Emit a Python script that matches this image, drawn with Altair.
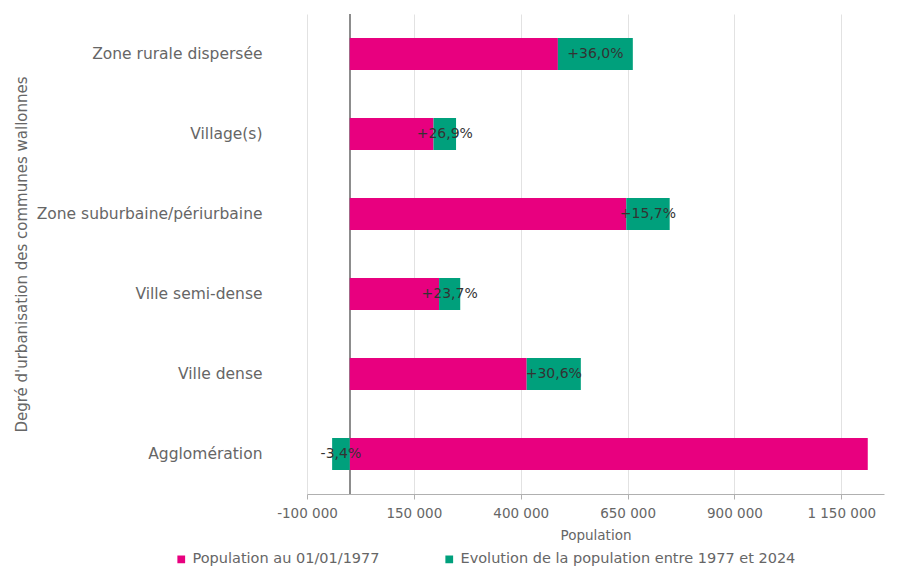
import altair as alt
import pandas as pd

# Urbanisation degree of Walloon municipalities, top to bottom
categories = [
    "Zone rurale dispersée",
    "Village(s)",
    "Zone suburbaine/périurbaine",
    "Ville semi-dense",
    "Ville dense",
    "Agglomération",
]
# Population on 1 January 1977
pop_1977 = [487000, 196000, 647000, 209000, 414000, 1212000]
# Change in population 1977 -> 2024, in percent of the 1977 population
evolution_pct = [36.0, 26.9, 15.7, 23.7, 30.6, -3.4]

series_names = [
    "Population au 01/01/1977",
    "Evolution de la population entre 1977 et 2024",
]
series_colors = ["#e8007f", "#00a07c"]
x_ticks = [-100000, 150000, 400000, 650000, 900000, 1150000]

FONT = "DejaVu Sans"
TEXT_GREY = "#666666"

rows = []
label_rows = []
for cat, pop, pct in zip(categories, pop_1977, evolution_pct):
    evol = round(pop * pct / 100)
    rows.append({"cat": cat, "serie": series_names[0], "value": pop, "rank": 0})
    rows.append({"cat": cat, "serie": series_names[1], "value": evol, "rank": 1})
    label_rows.append({
        "cat": cat,
        "pop": pop,
        "evol": evol,
        "label": f"{pct:+.1f}%".replace(".", ","),
    })
bars_df = pd.DataFrame(rows)
labels_df = pd.DataFrame(label_rows)

x_scale = alt.Scale(domain=[-100000, 1250000], nice=False, zero=False)
y_scale = alt.Scale(domain=categories, paddingInner=0.6, paddingOuter=0.3)

x_axis = alt.Axis(
    values=x_ticks,
    labelExpr="replace(replace(format(datum.value, ','), regexp(',', 'g'), ' '), '\u2212', '-')",
    labelFlush=False,
    grid=True,
    gridColor="#e2e2e2",
    domainColor="#b0b0b0",
    tickColor="#b0b0b0",
    tickSize=5,
    labelPadding=7,
    labelFontSize=13.5,
    labelColor=TEXT_GREY,
    labelFont=FONT,
    title="Population",
    titleFontSize=13.5,
    titleFontWeight="normal",
    titleColor=TEXT_GREY,
    titleFont=FONT,
    titlePadding=9,
)
y_axis = alt.Axis(
    domain=False,
    ticks=False,
    grid=False,
    labelPadding=45,
    labelLimit=320,
    labelFontSize=15.5,
    labelColor=TEXT_GREY,
    labelFont=FONT,
    title="Degré d'urbanisation des communes wallonnes",
    titleFontSize=15,
    titleFontWeight="normal",
    titleColor=TEXT_GREY,
    titleFont=FONT,
    titleX=-286,
    titleY=240,
    titleAngle=-90,
    titleBaseline="middle",
    titleAlign="center",
)

bars = alt.Chart(bars_df).mark_bar().encode(
    x=alt.X("value:Q", scale=x_scale, axis=x_axis, stack="zero"),
    y=alt.Y("cat:N", scale=y_scale, axis=y_axis, sort=categories),
    color=alt.Color(
        "serie:N",
        scale=alt.Scale(domain=series_names, range=series_colors),
        legend=alt.Legend(
            title=None,
            orient="none",
            legendX=-133,
            legendY=538,
            direction="horizontal",
            columns=2,
            columnPadding=62,
            symbolType="square",
            symbolSize=60,
            symbolStrokeWidth=0,
            labelFontSize=14.5,
            labelColor=TEXT_GREY,
            labelFont=FONT,
            labelLimit=400,
        ),
    ),
    order=alt.Order("rank:Q"),
)

zero_rule = alt.Chart(bars_df).mark_rule(color="#8c8c8c", strokeWidth=1.2).encode(
    x=alt.datum(0, scale=x_scale)
)

labels = (
    alt.Chart(labels_df)
    .transform_calculate(
        mid="datum.evol >= 0 ? datum.pop + datum.evol / 2 : datum.evol / 2"
    )
    .mark_text(font=FONT, fontSize=14, color="#333333", align="center", baseline="middle")
    .encode(
        x=alt.X("mid:Q", scale=x_scale),
        y=alt.Y("cat:N", scale=y_scale, sort=categories),
        text="label:N",
    )
)

chart = (
    alt.layer(zero_rule, bars, labels)
    .properties(
        width=577,
        height=480,
        padding={"left": 307, "top": 14, "right": 15, "bottom": 73},
        autosize=alt.AutoSizeParams(type="none"),
        background="white",
    )
    .configure_view(stroke=None)
)

chart.save("out.html", embed_options={"renderer": "svg", "actions": False})
